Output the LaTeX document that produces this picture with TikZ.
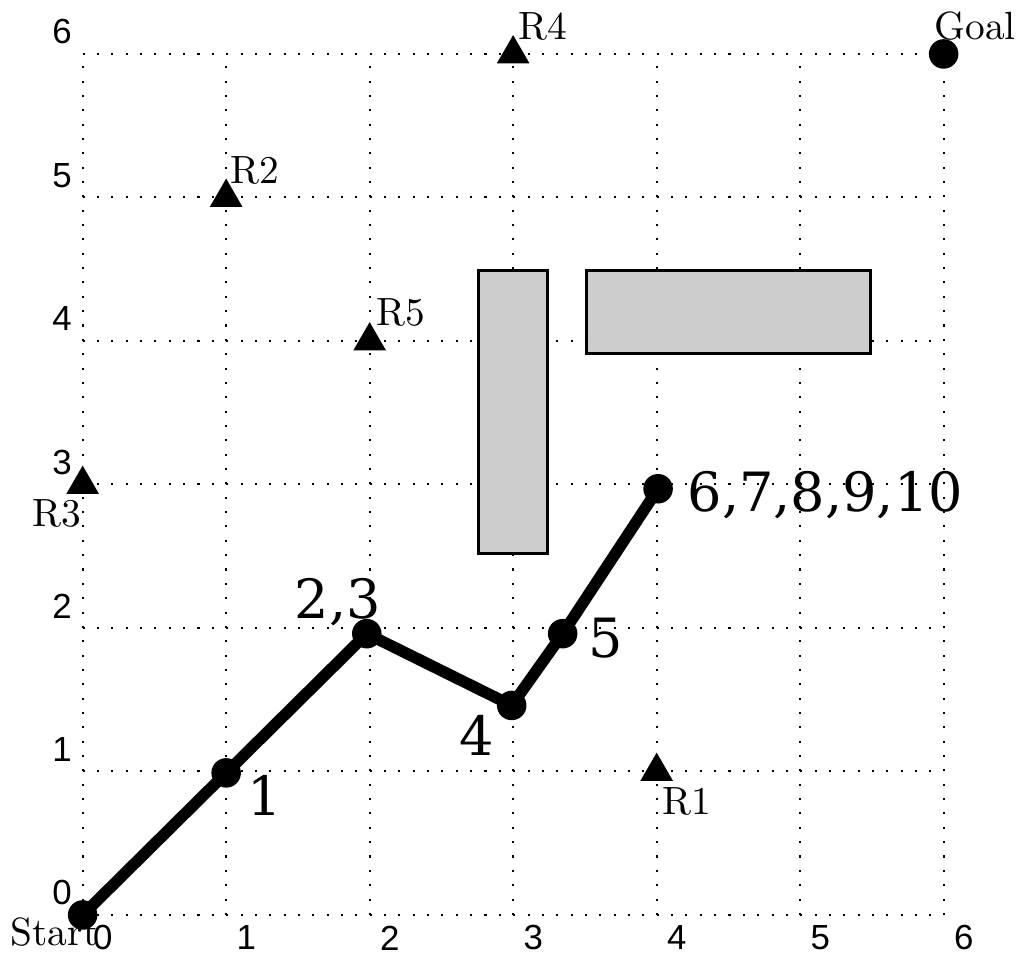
\documentclass[tikz,border=0pt]{standalone}
\usepackage{fontspec}
\newfontfamily\ticksfont{Liberation Sans}
\newfontfamily\stepsfont{DejaVu Serif}
\usetikzlibrary{shapes.geometric}

\begin{document}
\begin{tikzpicture}[x=1.23cm, y=1.23cm,
  gridline/.style={line width=0.5pt, dash pattern=on 0.5pt off 3pt},
  obstacle/.style={draw=black, line width=0.8pt, fill=black!20},
  waypoint/.style={circle, fill=black, inner sep=0pt, minimum size=7.2pt},
  landmark/.style={regular polygon, regular polygon sides=3, fill=black, inner sep=0pt, minimum size=9.2pt},
  route/.style={line width=2.8pt, line join=round},
  ticklabel/.style={font=\ticksfont\fontsize{8.5}{10}\selectfont, inner sep=0pt},
  steplabel/.style={font=\stepsfont\fontsize{13.2}{16}\selectfont, inner sep=0pt},
  marklabel/.style={inner sep=0pt, font=\fontsize{9.6}{11}\selectfont}]
\useasboundingbox (-0.576,-0.334) rectangle (6.511,6.376);

% Dotted grid and axis numbers
\foreach \i in {0,...,6} {
  \draw[gridline] (\i,0) -- (\i,6);
  \draw[gridline] (0,\i) -- (6,\i);
  \node[ticklabel] (xt\i) at (\i+0.14,-0.16) {\i};
  \node[ticklabel] (yt\i) at (-0.143,\i+0.153) {\i};
}

% Obstacles
\draw[obstacle] (2.76,2.52) rectangle (3.24,4.49);
\draw[obstacle] (3.51,3.91) rectangle (5.49,4.49);

% Landmarks
\node[landmark] (r1) at (4,1) {};
\node[landmark] (r2) at (1,5) {};
\node[landmark] (r3) at (0,3) {};
\node[landmark] (r4) at (3,6) {};
\node[landmark] (r5) at (2,4) {};
\node[marklabel, anchor=base west] (r1l) at (4.035,0.70) {R1};
\node[marklabel, anchor=base west] (r2l) at (1.023,5.098) {R2};
\node[marklabel, anchor=base east] (r3l) at (-0.007,2.71) {R3};
\node[marklabel, anchor=base west] (r4l) at (3.03,6.10) {R4};
\node[marklabel, anchor=base west] (r5l) at (2.04,4.105) {R5};

% Start, goal and the path taken
\node[waypoint] (s) at (0,0) {};
\node[waypoint] (w1) at (1,0.99) {};
\node[waypoint] (w2) at (1.98,1.96) {};
\node[waypoint] (w3) at (2.99,1.46) {};
\node[waypoint] (w4) at (3.345,1.96) {};
\node[waypoint] (w5) at (4.01,2.97) {};
\node[waypoint] (g) at (6,6) {};
\draw[route] (s.center) -- (w1.center) -- (w2.center) -- (w3.center) -- (w4.center) -- (w5.center);

\node[marklabel, anchor=base east] (sl) at (0.115,-0.21) {Start};
\node[marklabel, anchor=base west] (gl) at (5.93,6.10) {Goal};

% Step numbers
\node[steplabel, anchor=base west] (n1) at (1.14,0.69) {1};
\node[steplabel, anchor=base east] (n23) at (2.085,2.065) {2,3};
\node[steplabel, anchor=base east] (n4) at (2.874,1.11) {4};
\node[steplabel, anchor=base west] (n5) at (3.52,1.795) {5};
\node[steplabel, anchor=base west] (n6) at (4.21,2.81) {6,7,8,9,10};
\end{tikzpicture}
\end{document}
